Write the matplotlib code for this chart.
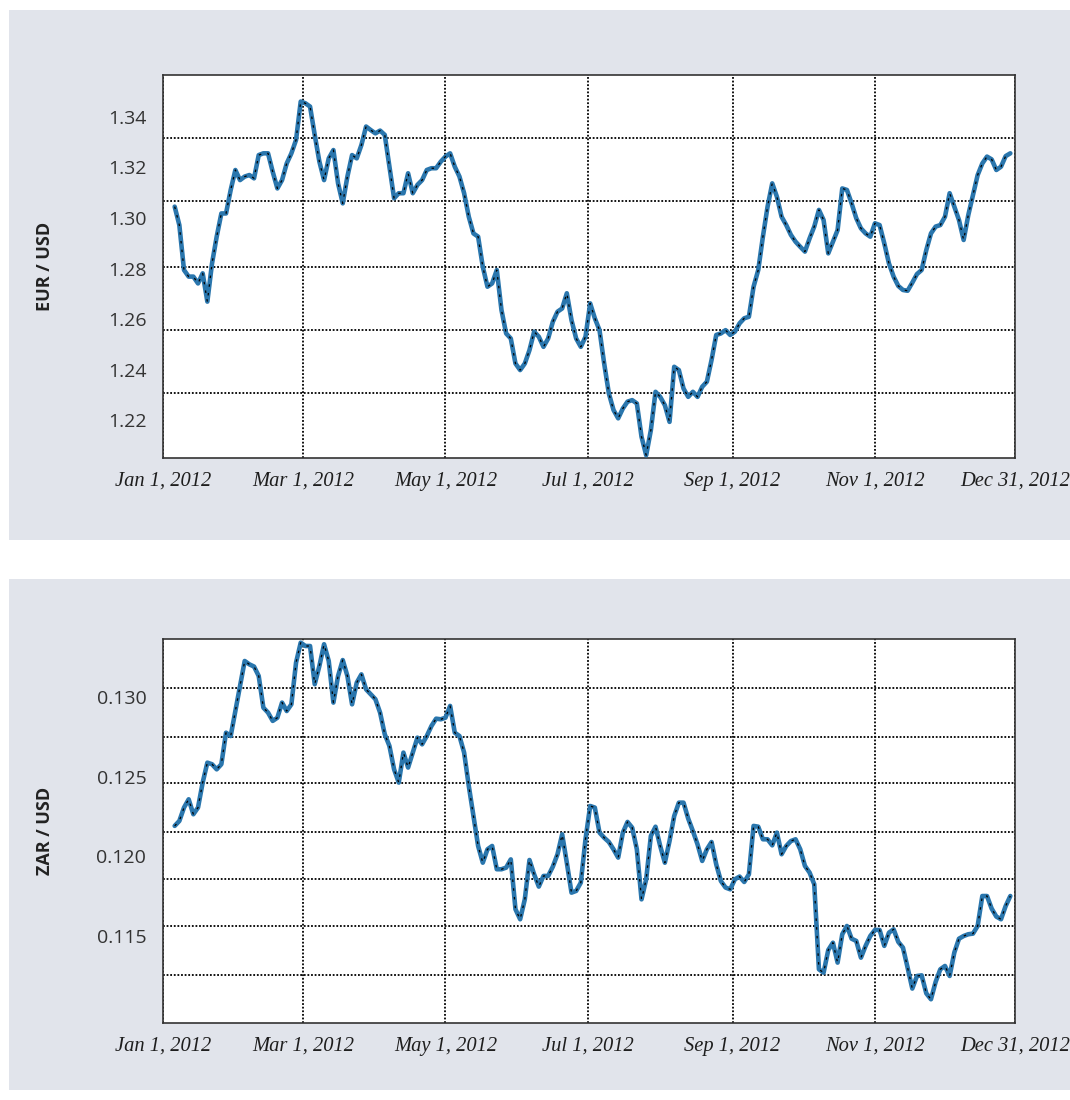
import matplotlib
matplotlib.use("Agg")
import matplotlib.pyplot as plt
from matplotlib.patches import Rectangle
import pandas as pd

# EUR/USD and ZAR/USD closes, read every 2nd day from Jan 6, 2012
start_date = "2012-01-06"

eur_usd = [
    1.3045, 1.2972, 1.2794, 1.2768, 1.2768, 1.2741, 1.2781, 1.2669, 1.2820, 1.2926,
    1.3018, 1.3018, 1.3111, 1.3190, 1.3150, 1.3164, 1.3170, 1.3157, 1.3249, 1.3256,
    1.3256, 1.3183, 1.3117, 1.3150, 1.3216, 1.3256, 1.3309, 1.3461, 1.3454, 1.3441,
    1.3329, 1.3223, 1.3150, 1.3236, 1.3269, 1.3137, 1.3058, 1.3164, 1.3249, 1.3236,
    1.3289, 1.3362, 1.3348, 1.3335, 1.3346, 1.3329, 1.3203, 1.3078, 1.3098, 1.3098,
    1.3177, 1.3098, 1.3131, 1.3150, 1.3190, 1.3197, 1.3197, 1.3223, 1.3243, 1.3256,
    1.3203, 1.3164, 1.3098, 1.3005, 1.2939, 1.2926, 1.2807, 1.2728, 1.2741, 1.2794,
    1.2636, 1.2543, 1.2523, 1.2424, 1.2398, 1.2424, 1.2477, 1.2550, 1.2530, 1.2490,
    1.2523, 1.2589, 1.2629, 1.2642, 1.2702, 1.2596, 1.2523, 1.2490, 1.2530, 1.2662,
    1.2603, 1.2556, 1.2424, 1.2306, 1.2240, 1.2207, 1.2246, 1.2273, 1.2279, 1.2266,
    1.2134, 1.2061, 1.2160, 1.2312, 1.2292, 1.2259, 1.2193, 1.2411, 1.2398, 1.2325,
    1.2292, 1.2312, 1.2292, 1.2332, 1.2352, 1.2438, 1.2537, 1.2543, 1.2556, 1.2537,
    1.2550, 1.2583, 1.2603, 1.2609, 1.2728, 1.2794, 1.2926, 1.3045, 1.3137, 1.3084,
    1.3005, 1.2972, 1.2933, 1.2906, 1.2886, 1.2867, 1.2919, 1.2966, 1.3032, 1.2992,
    1.2860, 1.2906, 1.2952, 1.3117, 1.3111, 1.3058, 1.2999, 1.2959, 1.2939, 1.2926,
    1.2979, 1.2972, 1.2900, 1.2820, 1.2768, 1.2731, 1.2715, 1.2712, 1.2744, 1.2778,
    1.2794, 1.2873, 1.2939, 1.2966, 1.2972, 1.3005, 1.3098, 1.3045, 1.2992, 1.2913,
    1.3012, 1.3091, 1.3170, 1.3216, 1.3243, 1.3232, 1.3190, 1.3203, 1.3245, 1.3256,
]

zar_usd = [
    0.12191, 0.12222, 0.12306, 0.12358, 0.12264, 0.12306, 0.12463, 0.12588, 0.12578, 0.12546,
    0.12578, 0.12776, 0.12755, 0.12912, 0.13069, 0.13226, 0.13205, 0.13191, 0.13132, 0.12933,
    0.12902, 0.12850, 0.12870, 0.12965, 0.12912, 0.12954, 0.13216, 0.13341, 0.13320, 0.13320,
    0.13080, 0.13195, 0.13331, 0.13226, 0.12965, 0.13132, 0.13232, 0.13132, 0.12954, 0.13090,
    0.13142, 0.13048, 0.13017, 0.12986, 0.12902, 0.12766, 0.12693, 0.12546, 0.12463, 0.12651,
    0.12557, 0.12651, 0.12745, 0.12703, 0.12755, 0.12818, 0.12864, 0.12860, 0.12870, 0.12944,
    0.12776, 0.12755, 0.12651, 0.12442, 0.12253, 0.12065, 0.11960, 0.12044, 0.12065, 0.11919,
    0.11919, 0.11929, 0.11981, 0.11668, 0.11605, 0.11730, 0.11977, 0.11887, 0.11810, 0.11877,
    0.11877, 0.11935, 0.12013, 0.12138, 0.11960, 0.11772, 0.11783, 0.11835, 0.12107, 0.12316,
    0.12306, 0.12149, 0.12117, 0.12090, 0.12044, 0.11992, 0.12149, 0.12216, 0.12180, 0.12044,
    0.11730, 0.11856, 0.12128, 0.12186, 0.12065, 0.11960, 0.12096, 0.12253, 0.12337, 0.12337,
    0.12237, 0.12159, 0.12075, 0.11971, 0.12044, 0.12090, 0.11950, 0.11845, 0.11804, 0.11793,
    0.11856, 0.11873, 0.11839, 0.11887, 0.12191, 0.12186, 0.12107, 0.12107, 0.12069, 0.12149,
    0.12013, 0.12065, 0.12096, 0.12107, 0.12044, 0.11940, 0.11898, 0.11825, 0.11291, 0.11270,
    0.11412, 0.11458, 0.11333, 0.11511, 0.11563, 0.11483, 0.11469, 0.11364, 0.11438, 0.11500,
    0.11538, 0.11538, 0.11438, 0.11521, 0.11542, 0.11463, 0.11427, 0.11301, 0.11170, 0.11249,
    0.11253, 0.11140, 0.11103, 0.11212, 0.11291, 0.11312, 0.11249, 0.11396, 0.11483, 0.11500,
    0.11511, 0.11515, 0.11563, 0.11751, 0.11751, 0.11672, 0.11622, 0.11605, 0.11688, 0.11751,
]

tick_dates = ["2012-01-01", "2012-03-01", "2012-05-01", "2012-07-01",
              "2012-09-01", "2012-11-01", "2012-12-31"]
tick_labels = ["Jan 1, 2012", "Mar 1, 2012", "May 1, 2012", "Jul 1, 2012",
               "Sep 1, 2012", "Nov 1, 2012", "Dec 31, 2012"]

eur_ticks = [1.22, 1.24, 1.26, 1.28, 1.30, 1.32, 1.34]
eur_grid = [1.2308, 1.2556, 1.2805, 1.3067, 1.3316]
zar_ticks = [0.115, 0.120, 0.125, 0.130]
zar_grid = [0.11256, 0.11564, 0.11859, 0.12154, 0.12460, 0.12749, 0.13056]

BG = "#e1e4eb"
BLUE = "#2a76ad"

fig = plt.figure(figsize=(10.7, 11), dpi=100)
fig.patch.set_facecolor("white")

# grey panels behind each chart
fig.add_artist(Rectangle((9 / 1070, 1 - 540 / 1100), 1.0, 530 / 1100,
                         transform=fig.transFigure, facecolor=BG, edgecolor="none", zorder=-10))
fig.add_artist(Rectangle((9 / 1070, 1 - 1090 / 1100), 1.0, 511 / 1100,
                         transform=fig.transFigure, facecolor=BG, edgecolor="none", zorder=-10))

ax1 = fig.add_axes([163 / 1070, 1 - 458 / 1100, 852 / 1070, 383 / 1100])
ax2 = fig.add_axes([163 / 1070, 1 - 1023 / 1100, 852 / 1070, 384 / 1100])

dates = pd.date_range(start_date, periods=len(eur_usd), freq="2D")
xticks = pd.to_datetime(tick_dates)


def draw_panel(ax, values, yticks, ygrid, fmt, ylabel, ylim):
    ax.set_facecolor("white")
    ax.plot(dates, values, color=BLUE, lw=3.3, solid_capstyle="round", zorder=3)
    ax.plot(dates, values, color="black", lw=0.9, linestyle=(0, (2.0, 5.0)), zorder=4)

    ax.set_xlim(pd.Timestamp("2012-01-01"), pd.Timestamp("2012-12-31"))
    ax.set_ylim(*ylim)

    ax.set_xticks(xticks)
    ax.set_xticklabels(tick_labels, fontsize=14.8, style="italic",
                       family="Liberation Serif", color="#1e1e1e")
    ax.set_yticks(yticks)
    ax.set_yticklabels([fmt.format(v) for v in yticks], fontsize=14,
                       family="Open Sans", color="#333333")
    ax.set_yticks(ygrid, minor=True)

    ax.tick_params(axis="x", which="major", length=0, pad=10)
    ax.tick_params(axis="y", which="both", length=0, pad=12)

    dots = (0, (1, 1.0))
    ax.grid(axis="x", which="major", color="black", lw=1.3, linestyle=dots)
    ax.grid(axis="y", which="minor", color="black", lw=1.3, linestyle=dots)
    ax.grid(axis="y", which="major", visible=False)

    for sp in ax.spines.values():
        sp.set_color("#333333")
        sp.set_linewidth(1.2)

    ax.set_ylabel(ylabel, fontsize=13, fontweight="bold", family="Open Sans", color="#222222")
    ax.yaxis.set_label_coords(-0.128, 0.5)


draw_panel(ax1, eur_usd, eur_ticks, eur_grid, "{:.2f}", "EUR / USD", (1.2050, 1.3566))
draw_panel(ax2, zar_usd, zar_ticks, zar_grid, "{:.3f}", "ZAR / USD", (0.10954, 0.13364))

fig.savefig("out.png", dpi=100, facecolor="white")
